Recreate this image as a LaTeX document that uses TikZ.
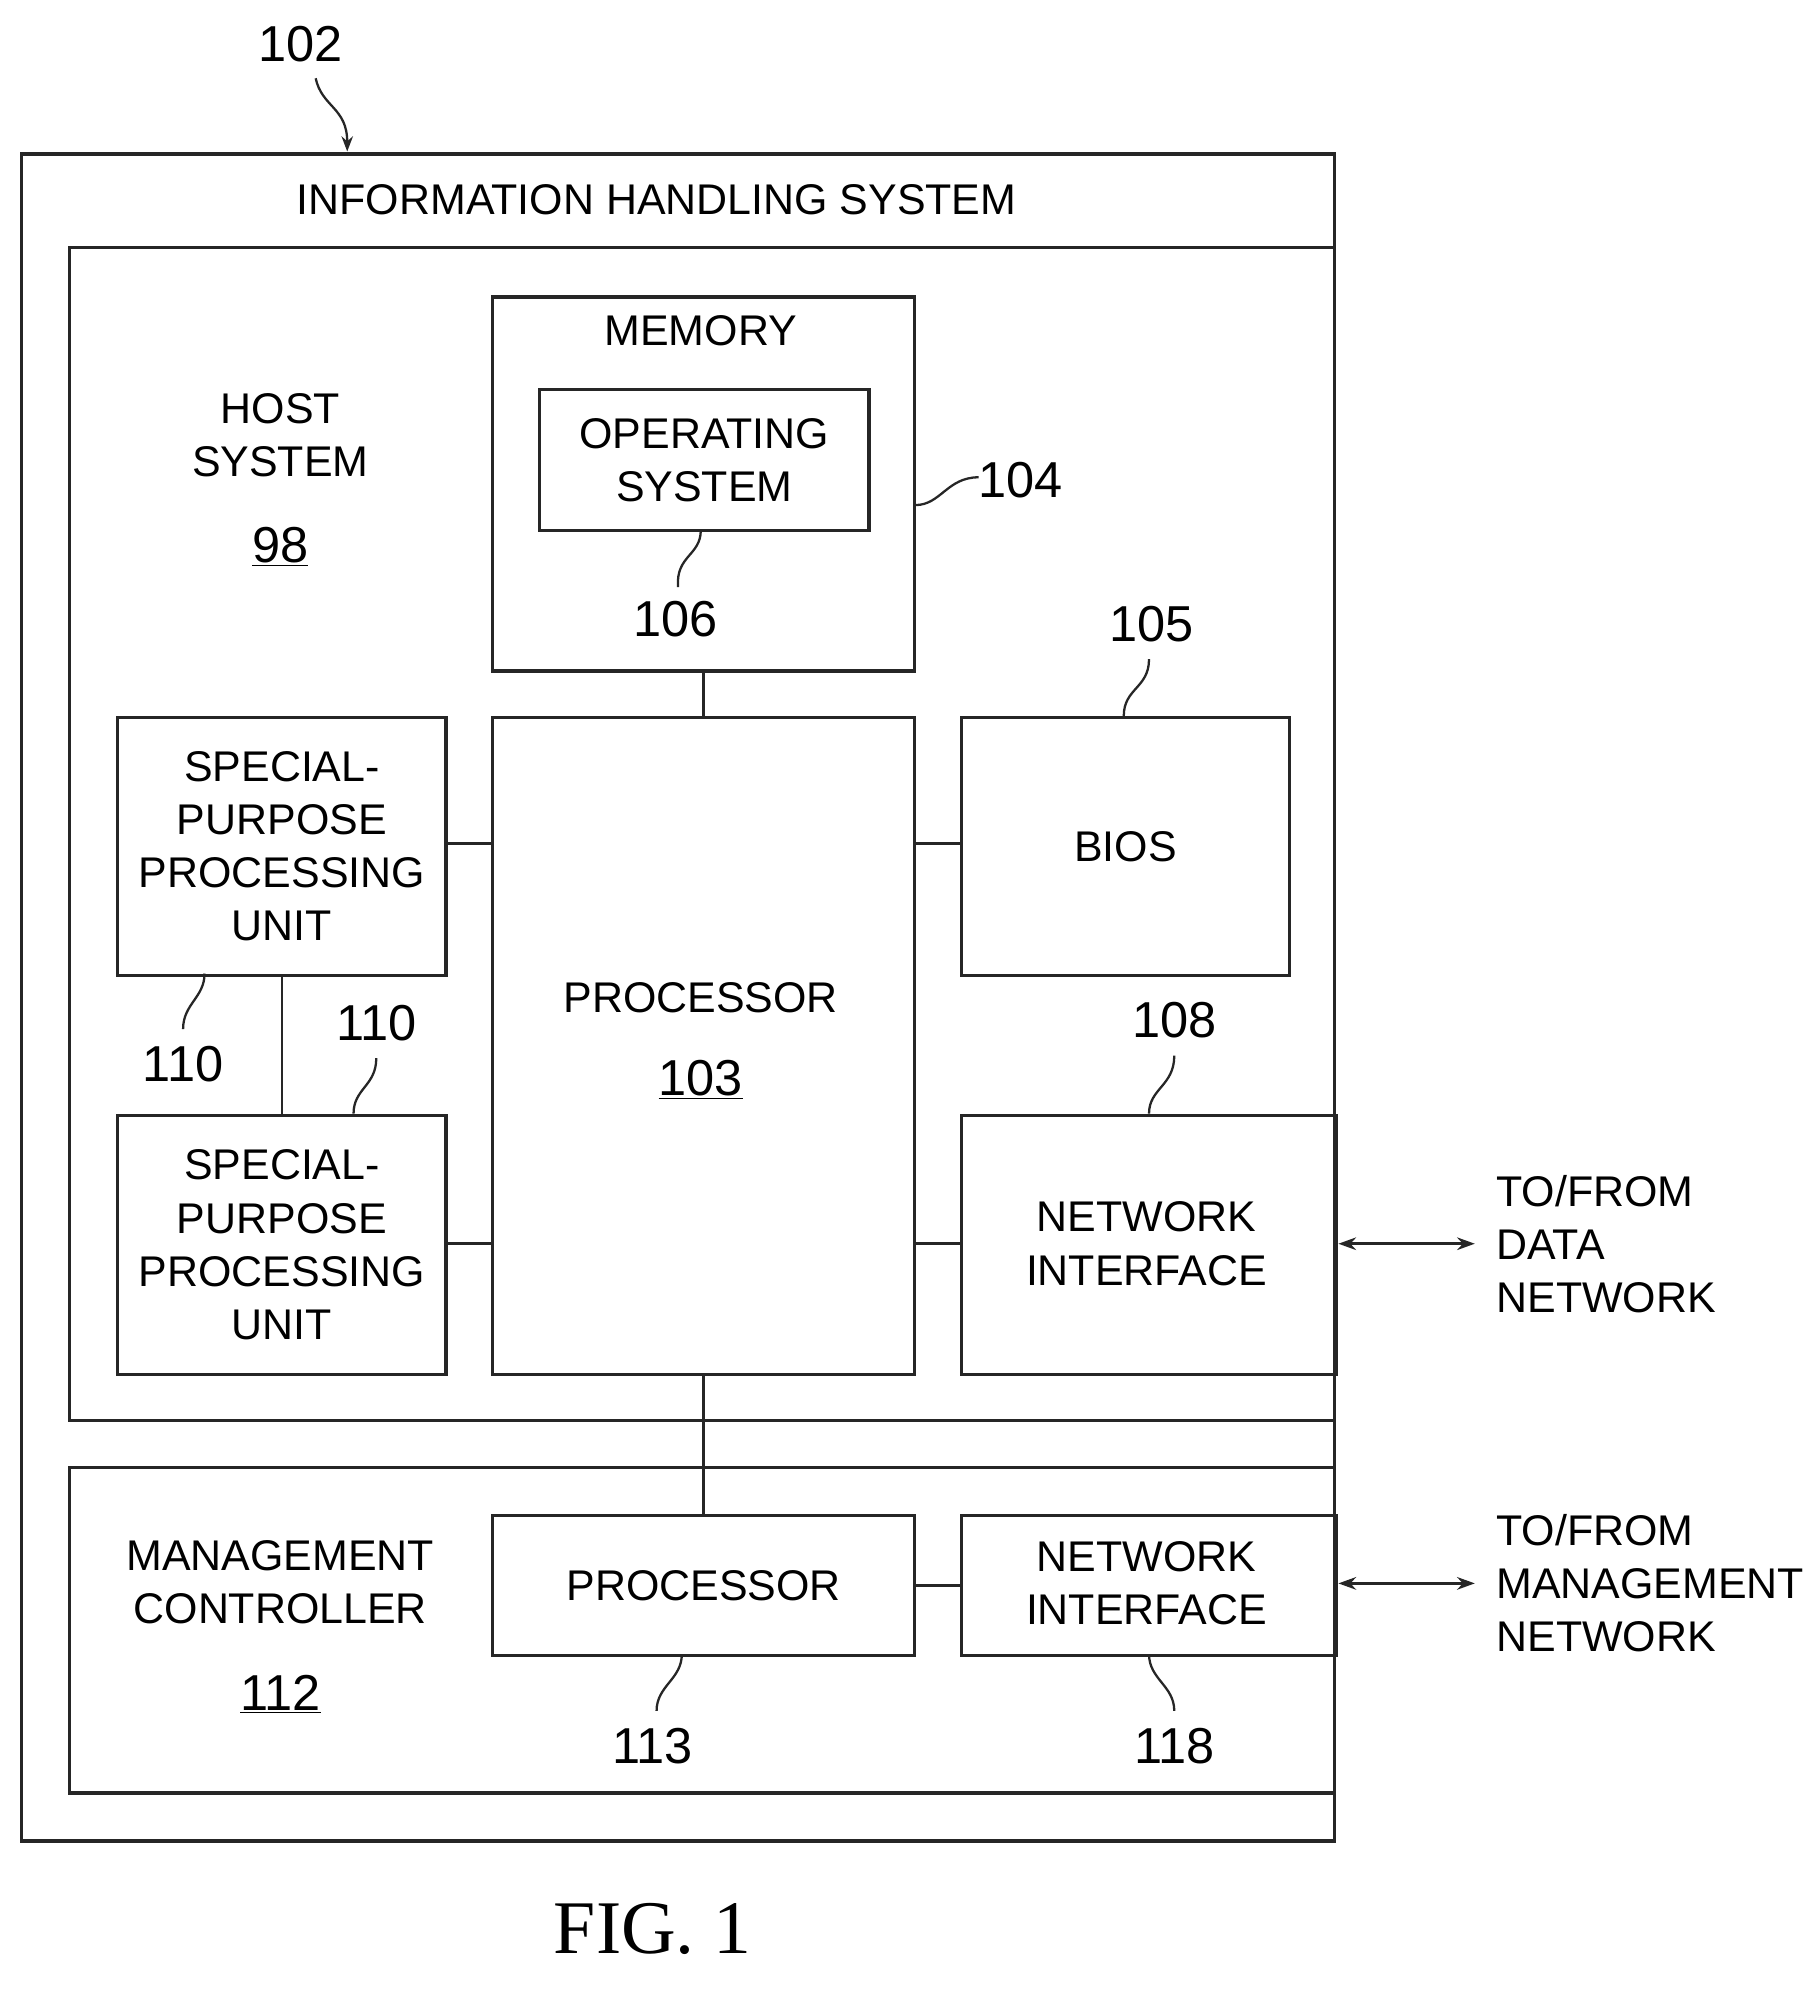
\documentclass[tikz,border=0pt]{standalone}
\usepackage{fontspec}
\setmainfont{Liberation Sans}
\newfontfamily\figfont{Liberation Serif}
\usetikzlibrary{arrows.meta}
\begin{document}
\begin{tikzpicture}[x=1pt,y=-1pt,
  bx/.style={draw=black!85,line width=2.6pt},
  ln/.style={draw=black!85,line width=2.2pt},
  t/.style={font=\fontsize{34}{40}\selectfont,align=center,inner sep=0pt},
  n/.style={font=\fontsize{40}{44}\selectfont,inner sep=0pt},
  sq/.style={draw=black!85,line width=1.8pt}]
\useasboundingbox[fill=white] (0,0) rectangle (1440,1580);
\draw[bx] (17,122) rectangle (1057,1458);
\draw[bx] (1057,196) -- (55,196) -- (55,1125) -- (1057,1125);
\draw[bx] (1057,1162) -- (55,1162) -- (55,1420) -- (1057,1420);
\node[bx,minimum width=334,minimum height=296,anchor=north west] (mem) at (389,234) {};
\node[bx,minimum width=261,minimum height=112,anchor=north west] (os) at (426,307) {};
\node[bx,minimum width=334,minimum height=520,anchor=north west] (proc) at (389,567) {};
\node[bx,minimum width=260,minimum height=204,anchor=north west] (bios) at (760,567) {};
\node[bx,minimum width=260,minimum height=204,anchor=north west] (sp1) at (92,567) {};
\node[bx,minimum width=260,minimum height=205,anchor=north west] (sp2) at (92,882) {};
\node[bx,minimum width=297,minimum height=205,anchor=north west] (nif) at (760,882) {};
\node[bx,minimum width=334,minimum height=111,anchor=north west] (mp) at (389,1199) {};
\node[bx,minimum width=297,minimum height=111,anchor=north west] (mnif) at (760,1199) {};
% texts
\node[t] (ihs) at (520,158) {INFORMATION HANDLING SYSTEM};
\node[t] (hs) at (222,345) {HOST\\[2pt]SYSTEM};
\node[n] (l98) at (222,433) {\underline{98}};
\node[t] (memt) at (555,262) {MEMORY};
\node[t] at (os.center) {OPERATING\\[2pt]SYSTEM};
\node[t] (proct) at (555,790) {PROCESSOR};
\node[n] (l103) at (555,855) {\underline{103}};
\node[t] at (bios.center) {BIOS};
\node[t] at (sp1.center) {SPECIAL-\\[2pt]PURPOSE\\[2pt]PROCESSING\\[2pt]UNIT};
\node[t] at (sp2.center) {SPECIAL-\\[2pt]PURPOSE\\[2pt]PROCESSING\\[2pt]UNIT};
\node[t] at (908,985) {NETWORK\\[2pt]INTERFACE};
\node[t] at (mp.center) {PROCESSOR};
\node[t] at (908,1254) {NETWORK\\[2pt]INTERFACE};
\node[t] (mc) at (222,1253) {MANAGEMENT\\[2pt]CONTROLLER};
\node[n] (l112) at (222,1342) {\underline{112}};
\node[t,align=left,anchor=west] (dn) at (1185,985) {TO/FROM\\[2pt]DATA\\[2pt]NETWORK};
\node[t,align=left,anchor=west] (mn) at (1185,1254) {TO/FROM\\[2pt]MANAGEMENT\\[2pt]NETWORK};
\node[font=\fontsize{60}{62}\figfont\selectfont,inner sep=0pt] (fig) at (517,1528) {FIG. 1};
% ref numbers
\node[n] (l102) at (238,35) {102};
\node[n] (l104) at (808,380) {104};
\node[n] (l106) at (535,490) {106};
\node[n] (l105) at (912,494) {105};
\node[n] (l110a) at (145,843) {110};
\node[n] (l110b) at (298,810) {110};
\node[n] (l108) at (930,808) {108};
\node[n] (l113) at (517,1383) {113};
\node[n] (l118) at (930,1383) {118};
% connectors
\draw[ln] (mem.south) -- (proc.north);
\draw[ln] (sp1.east |- 0,668) -- (proc.west |- 0,668);
\draw[ln] (sp2.east |- 0,985) -- (proc.west |- 0,985);
\draw[ln] (proc.east |- 0,668) -- (bios.west |- 0,668);
\draw[ln] (proc.east |- 0,985) -- (nif.west |- 0,985);
\draw[ln] (sp1.south) -- (sp2.north);
\draw[ln] (proc.south) -- (mp.north);
\draw[ln] (mp.east) -- (mnif.west);
\draw[ln,{Stealth[length=14pt,width=10pt]}-{Stealth[length=14pt,width=10pt]}] (1060,985) -- (1168,985);
\draw[ln,{Stealth[length=14pt,width=10pt]}-{Stealth[length=14pt,width=10pt]}] (1060,1254) -- (1168,1254);
% leader squiggles
\draw[sq,-{Stealth[length=12pt,width=9pt]}] (250,62) .. controls (255,85) and (275,85) .. (275,120);
\draw[sq] (725,400) .. controls (745,400) and (750,378) .. (775,378);
\draw[sq] (555,420) .. controls (555,440) and (535,440) .. (537,465);
\draw[sq] (890,567) .. controls (890,545) and (910,545) .. (910,522);
\draw[sq] (162,771) .. controls (162,790) and (145,795) .. (145,815);
\draw[sq] (280,882) .. controls (280,862) and (298,860) .. (298,838);
\draw[sq] (910,882) .. controls (910,862) and (930,860) .. (930,836);
\draw[sq] (540,1310) .. controls (540,1330) and (520,1335) .. (520,1355);
\draw[sq] (910,1310) .. controls (910,1330) and (930,1335) .. (930,1355);
\end{tikzpicture}
\end{document}
